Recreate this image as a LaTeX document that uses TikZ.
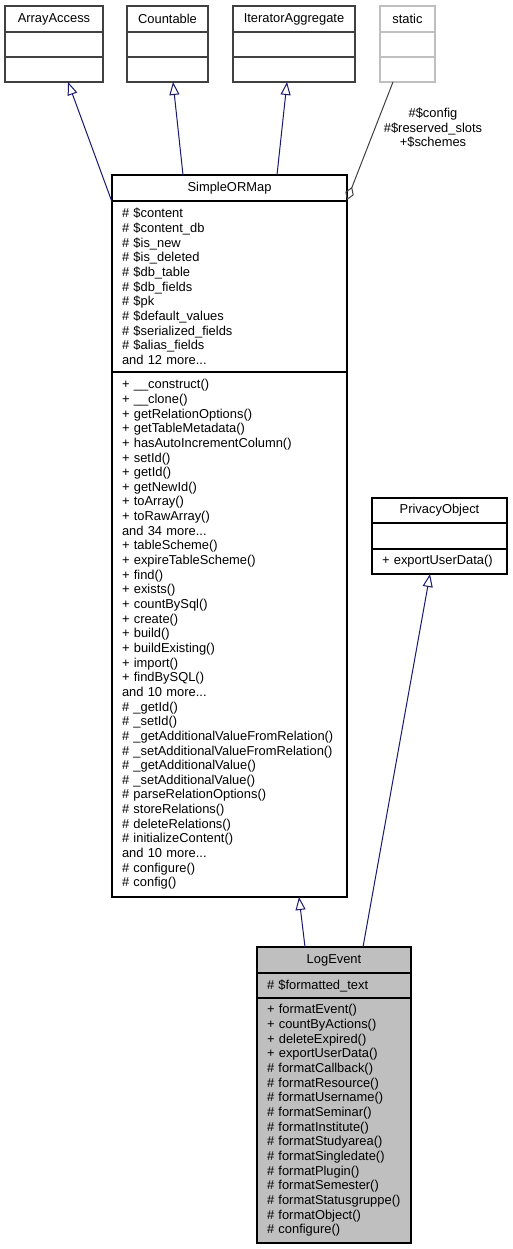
\documentclass[tikz,border=0pt]{standalone}
\usepackage{fontspec}
\setmainfont{Liberation Sans}
\usetikzlibrary{positioning}
\usetikzlibrary{calc}
\usetikzlibrary{arrows.meta}

\definecolor{edgeblue}{HTML}{191970}
\definecolor{grey25}{HTML}{404040}
\definecolor{grey75}{HTML}{BFBFBF}

\begin{document}
\begin{tikzpicture}[x=1pt,y=-1pt,
    umltext/.style={font=\fontsize{12.9}{14.65}\selectfont},
    part/.style={umltext,draw=#1,line width=1.1pt,inner xsep=10pt,inner ysep=0pt,
        anchor=north,outer sep=0pt},
    title/.style={align=center},
    body/.style={align=left},
    inherit/.style={draw=edgeblue,line width=1pt,-{Triangle[open,length=13pt,width=10pt]}},
    usage/.style={draw=grey25,line width=1pt,{Diamond[open,length=14pt,width=9pt]}-}]
\useasboundingbox (0,0) rectangle (512,1249);
\def\wa{98}
\def\wc{81}
\def\wi{122}
\def\ws{55}
\def\wm{235}
\def\wp{135}
\def\wl{154}

% base classes
\node[part=grey25,title,text width=\wa-20,minimum height=26,anchor=north west]
    (aaT) at (5,6) {ArrayAccess};
\node[part=grey25,body,text width=\wa-20,minimum height=25,below=0pt of aaT] (aaA) {};
\node[part=grey25,body,text width=\wa-20,minimum height=25,below=0pt of aaA] (aaM) {};

\node[part=grey25,title,text width=\wc-20,minimum height=26,anchor=north west]
    (coT) at (127,6) {Countable};
\node[part=grey25,body,text width=\wc-20,minimum height=25,below=0pt of coT] (coA) {};
\node[part=grey25,body,text width=\wc-20,minimum height=25,below=0pt of coA] (coM) {};

\node[part=grey25,title,text width=\wi-20,minimum height=26,anchor=north west]
    (itT) at (233,6) {IteratorAggregate};
\node[part=grey25,body,text width=\wi-20,minimum height=25,below=0pt of itT] (itA) {};
\node[part=grey25,body,text width=\wi-20,minimum height=25,below=0pt of itA] (itM) {};

\node[part=grey75,title,text width=\ws-20,minimum height=26,anchor=north west]
    (stT) at (380,6) {static};
\node[part=grey75,body,text width=\ws-20,minimum height=25,below=0pt of stT] (stA) {};
\node[part=grey75,body,text width=\ws-20,minimum height=25,below=0pt of stA] (stM) {};

% SimpleORMap
\node[part=black,title,text width=\wm-20,minimum height=26,anchor=north west]
    (smT) at (112,175) {SimpleORMap};
\node[part=black,body,text width=\wm-20,minimum height=171,below=0pt of smT] (smA) {%
\#~\$content\\
\#~\$content\_db\\
\#~\$is\_new\\
\#~\$is\_deleted\\
\#~\$db\_table\\
\#~\$db\_fields\\
\#~\$pk\\
\#~\$default\_values\\
\#~\$serialized\_fields\\
\#~\$alias\_fields\\
and 12 more...};
\node[part=black,body,text width=\wm-20,minimum height=525,below=0pt of smA] (smM) {%
+~\_\_construct()\\
+~\_\_clone()\\
+~getRelationOptions()\\
+~getTableMetadata()\\
+~hasAutoIncrementColumn()\\
+~setId()\\
+~getId()\\
+~getNewId()\\
+~toArray()\\
+~toRawArray()\\
and 34 more...\\
+~tableScheme()\\
+~expireTableScheme()\\
+~find()\\
+~exists()\\
+~countBySql()\\
+~create()\\
+~build()\\
+~buildExisting()\\
+~import()\\
+~findBySQL()\\
and 10 more...\\
\#~\_getId()\\
\#~\_setId()\\
\#~\_getAdditionalValueFromRelation()\\
\#~\_setAdditionalValueFromRelation()\\
\#~\_getAdditionalValue()\\
\#~\_setAdditionalValue()\\
\#~parseRelationOptions()\\
\#~storeRelations()\\
\#~deleteRelations()\\
\#~initializeContent()\\
and 10 more...\\
\#~configure()\\
\#~config()};

% PrivacyObject
\node[part=black,title,text width=\wp-20,minimum height=25,anchor=north west]
    (prT) at (372,498) {PrivacyObject};
\node[part=black,body,text width=\wp-20,minimum height=26,below=0pt of prT] (prA) {};
\node[part=black,body,text width=\wp-20,minimum height=25,below=0pt of prA] (prM)
    {+~exportUserData()};

% LogEvent
\node[part=black,fill=grey75,title,text width=\wl-20,minimum height=26,anchor=north west]
    (leT) at (257,947) {LogEvent};
\node[part=black,fill=grey75,body,text width=\wl-20,minimum height=25,below=0pt of leT]
    (leA) {\#~\$formatted\_text};
\node[part=black,fill=grey75,body,text width=\wl-20,minimum height=245,below=0pt of leA] (leM) {%
+~formatEvent()\\
+~countByActions()\\
+~deleteExpired()\\
+~exportUserData()\\
\#~formatCallback()\\
\#~formatResource()\\
\#~formatUsername()\\
\#~formatSeminar()\\
\#~formatInstitute()\\
\#~formatStudyarea()\\
\#~formatSingledate()\\
\#~formatPlugin()\\
\#~formatSemester()\\
\#~formatStatusgruppe()\\
\#~formatObject()\\
\#~configure()};

\draw[inherit] ($(smA.north west)+(0,1)$) -- ($(aaM.south)+(14,0)$);
\draw[inherit] ($(smT.north)+(-46.5,0)$) -- ($(coM.south)+(5.5,0)$);
\draw[inherit] ($(smT.north)+(47.5,0)$) -- ($(itM.south)+(-7,0)$);
\draw[usage] ($(smA.north east)+(0,-1)$) -- ($(stM.south)+(-14.5,0)$);
\node[umltext,align=center] (cfg) at (433,128)
    {\#\$config\\\#\$reserved\_slots\\+\$schemes};

\draw[inherit] ($(leT.north)+(-29,0)$) -- ($(smM.south)+(69.5,0)$);
\draw[inherit] ($(leT.north)+(29,0)$) -- ($(prM.south)+(-9.5,0)$);
\end{tikzpicture}
\end{document}
